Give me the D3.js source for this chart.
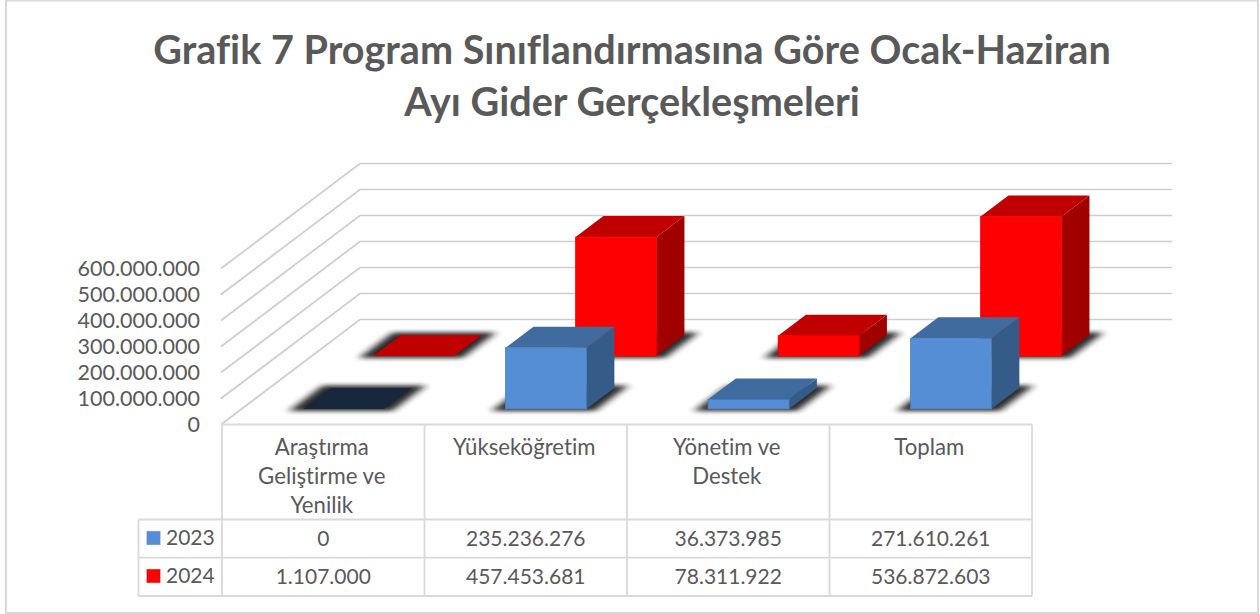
<!DOCTYPE html>
<html><head><meta charset="utf-8">
<script src="https://cdn.jsdelivr.net/npm/d3@7"></script>
<style>html,body{margin:0;padding:0;background:#fff}svg{display:block}text{font-family:Lato,"Open Sans",sans-serif;font-variant-ligatures:none}</style>
</head><body><div id="c"></div>
<script>
const titleLines=["Grafik 7 Program Sınıflandırmasına Göre Ocak-Haziran","Ayı Gider Gerçekleşmeleri"];
const categories=["Araştırma Geliştirme ve Yenilik","Yükseköğretim","Yönetim ve Destek","Toplam"];
const categoryLines=[["Araştırma","Geliştirme ve","Yenilik"],["Yükseköğretim"],["Yönetim ve","Destek"],["Toplam"]];
const seriesNames=["2023","2024"];
const values2023=[0,235236276,36373985,271610261];
const values2024=[1107000,457453681,78311922,536872603];
const ticks=[0,100000000,200000000,300000000,400000000,500000000,600000000];
const colors2023={front:"#558ED5",top:"#3F6B9F",side:"#355B88",edge:"#4A7EBB",zero:"#17283C"};
const colors2024={front:"#FF0000",top:"#C00000",side:"#A00000",edge:"#F00000",zero:"#C00000"};

const W=1260,H=614;
const svg=d3.select("#c").append("svg").attr("width",W).attr("height",H);
const defs=svg.append("defs");
defs.append("filter").attr("id","blur").attr("x","-30%").attr("y","-60%").attr("width","160%").attr("height","220%")
  .append("feGaussianBlur").attr("stdDeviation","4.5 2.2");

const fmt=d3.formatLocale({decimal:",",thousands:".",grouping:[3],currency:["",""]}).format(",d");
const textCol="#595959", lineCol="#D9D9D9", gridCol="#CDCDCD";

svg.append("rect").attr("x",6).attr("y",0.5).attr("width",1252).attr("height",612.5).attr("fill","#fff").attr("stroke","#D9D9D9").attr("stroke-width",2);

svg.append("g").selectAll("text").data(titleLines).join("text")
  .attr("x",632).attr("y",(d,i)=>[64,116][i]).attr("text-anchor","middle")
  .attr("font-size",39.6).attr("font-weight",700).attr("fill",textCol).text(d=>d);

// scales
const y=d3.scaleLinear().domain([0,600000000]).range([0,-156]);   // height above floor
const band=d3.scaleBand().domain(categories).range([222,1032]);
const depth=d3.scaleLinear().domain([0,1]).range([0,1]);          // floor depth: 0 front, 1 back wall
const dxAt=d=>depth(d)*139, dyAt=d=>depth(d)*-105;
const frontY=424.5;
const seriesDepth=d3.scalePoint().domain(seriesNames).range([0.148,0.652]);
const barW=81;
const barDepth=0.2;

// walls / gridlines
const grid=svg.append("g").attr("fill","none").attr("stroke",gridCol).attr("stroke-width",1.7);
grid.selectAll("path").data(ticks).join("path")
  .attr("d",t=>{const a=frontY+y(t);return d3.line()([[221,a],[221+dxAt(1),a+dyAt(1)],[1172,a+dyAt(1)]]);});

// y axis labels
const axis=d3.axisLeft(d3.scaleLinear().domain([0,600000000]).range([frontY,frontY-156])).tickValues(ticks).tickFormat(fmt).tickSize(0).tickPadding(0);
const ga=svg.append("g").attr("transform","translate(200,0)").call(axis);
ga.select(".domain").remove();
ga.selectAll("text").attr("font-size",21.5).attr("fill",textCol).attr("font-family",'Lato,sans-serif');

// bars
function drawSeries(name,vals,c){
  const g=svg.append("g");
  const d0=seriesDepth(name);
  const ox=dxAt(d0)+60.5, oy=frontY+dyAt(d0);
  const ddx=dxAt(barDepth), ddy=dyAt(barDepth);
  const poly=(pts)=>"M"+pts.map(p=>p.join(",")).join("L")+"Z";
  vals.forEach((v,i)=>{
    const x=band(categories[i])+ox, b=oy, t=b+y(v);
    g.append("path").attr("d",poly([[x-14,b+2],[x+barW+8,b+2],[x+barW+ddx+14,b+ddy-2.5],[x+ddx-8,b+ddy-2.5]]))
      .attr("fill","#1c1c1c").attr("filter","url(#blur)").attr("opacity",.95);
    if(b-t<1.5){
      g.append("path").attr("d",poly([[x,b],[x+barW,b],[x+barW+ddx,b+ddy],[x+ddx,b+ddy]])).attr("fill",c.zero);
      return;
    }
    g.append("path").attr("d",poly([[x+barW,b],[x+barW+ddx,b+ddy],[x+barW+ddx,t+ddy],[x+barW,t]])).attr("fill",c.side);
    g.append("path").attr("d",poly([[x,t],[x+barW,t],[x+barW+ddx,t+ddy],[x+ddx,t+ddy]])).attr("fill",c.top);
    g.append("rect").attr("x",x).attr("y",t).attr("width",barW).attr("height",b-t).attr("fill",c.front).attr("stroke",c.edge).attr("stroke-width",.8);
  });
}
drawSeries("2024",values2024,colors2024);
drawSeries("2023",values2023,colors2023);

// data table
const rowY=[424.5,519.5,557.7,596], leftX=138.5;
const t=svg.append("g");
const colX=[...categories.map(c=>band(c)),1032];
const tl=t.append("g").attr("stroke",lineCol).attr("stroke-width",1.8);
colX.forEach((x,i)=>tl.append("line").attr("x1",x).attr("x2",x).attr("y1",424.5).attr("y2",596));
tl.append("line").attr("x1",leftX).attr("x2",leftX).attr("y1",519.5).attr("y2",596);
rowY.forEach((yy,i)=>tl.append("line").attr("x1",i==0?221:leftX).attr("x2",1032).attr("y1",yy).attr("y2",yy));

const cx=c=>band(c)+band.bandwidth()/2;
categories.forEach((c,i)=>{
  categoryLines[i].forEach((l,j)=>t.append("text").attr("x",cx(c)-1.5).attr("y",455+j*29).attr("text-anchor","middle").attr("font-size",22.2).attr("fill",textCol).text(l));
});
[[seriesNames[0],values2023,colors2023.front,546],[seriesNames[1],values2024,colors2024.front,584]].forEach(([n,vals,col,by])=>{
  t.append("rect").attr("x",146.5).attr("y",by-15).attr("width",14).attr("height",14).attr("fill",col).attr("stroke","#D9D9D9").attr("stroke-width",.5);
  t.append("text").attr("x",166).attr("y",by-1).attr("font-size",21).attr("fill",textCol).text(n);
  vals.forEach((v,i)=>t.append("text").attr("x",cx(categories[i])).attr("y",by).attr("text-anchor","middle").attr("font-size",21).attr("fill",textCol).text(fmt(v)));
});
</script></body></html>
